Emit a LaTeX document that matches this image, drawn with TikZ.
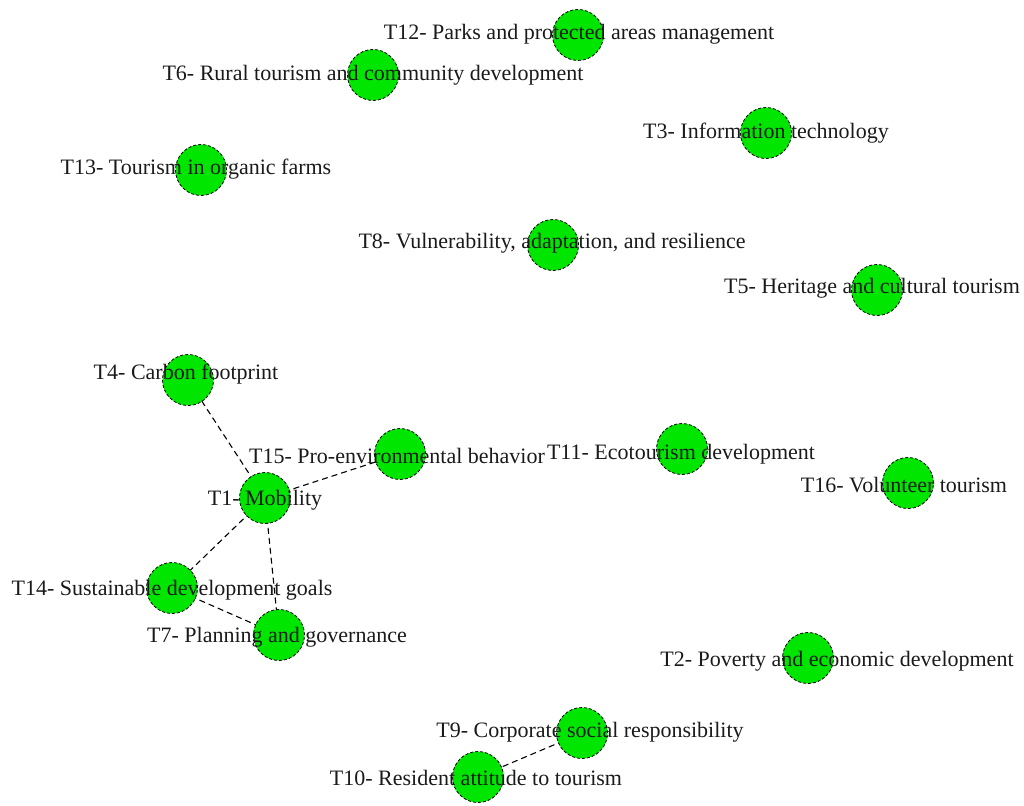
\documentclass[tikz,border=0pt]{standalone}
\usepackage{fontspec}
\setmainfont{Liberation Serif}
\usetikzlibrary{backgrounds}
\definecolor{topicgreen}{HTML}{00E600}
\definecolor{inkgray}{HTML}{1A1A1A}
\tikzset{
 topic/.style={circle,draw=black,densely dashed,line width=0.8pt,fill=topicgreen,minimum size=51pt,inner sep=0pt},
 toplabel/.style={text=inkgray,inner sep=0pt,anchor=base,font=\fontsize{22}{24}\selectfont},
 link/.style={draw=black,line width=1.1pt,dash pattern=on 6pt off 4pt}
}

\begin{document}
\begin{tikzpicture}[x=1pt,y=-1pt]
\useasboundingbox (0,0) rectangle (1024,805);
% topics
\node[topic] (t12) at (578,35) {};
\node[topic] (t6) at (373,75) {};
\node[topic] (t3) at (766,133) {};
\node[topic] (t13) at (201,170) {};
\node[topic] (t8) at (553,245) {};
\node[topic] (t5) at (877,290) {};
\node[topic] (t4) at (188,380) {};
\node[topic] (t15) at (400,454) {};
\node[topic] (t11) at (682,449) {};
\node[topic] (t16) at (908,483) {};
\node[topic] (t1) at (265,498) {};
\node[topic] (t14) at (172,588) {};
\node[topic] (t7) at (279,635) {};
\node[topic] (t2) at (808,658) {};
\node[topic] (t9) at (582,733) {};
\node[topic] (t10) at (478,777) {};
% links
\begin{scope}[on background layer]
\draw[link] (t1.center) -- (t4.center);
\draw[link] (t1.center) -- (t15.center);
\draw[link] (t1.center) -- (t14.center);
\draw[link] (t1.center) -- (t7.center);
\draw[link] (t14.center) -- (t7.center);
\draw[link] (t9.center) -- (t10.center);
\end{scope}
% labels (baselines)
\node[toplabel] (l12) at (579,40) {T12- Parks and protected areas management};
\node[toplabel] (l6) at (373,81) {T6- Rural tourism and community development};
\node[toplabel] (l3) at (766,139) {T3- Information technology};
\node[toplabel] (l13) at (196,175) {T13- Tourism in organic farms};
\node[toplabel] (l8) at (552,248) {T8- Vulnerability, adaptation, and resilience};
\node[toplabel] (l5) at (872,293) {T5- Heritage and cultural tourism};
\node[toplabel] (l4) at (186,379) {T4- Carbon footprint};
\node[toplabel] (l15) at (397,463) {T15- Pro-environmental behavior};
\node[toplabel] (l11) at (681,459) {T11- Ecotourism development};
\node[toplabel] (l16) at (904,492) {T16- Volunteer tourism};
\node[toplabel] (l1) at (265,505) {T1- Mobility};
\node[toplabel] (l14) at (172,595) {T14- Sustainable development goals};
\node[toplabel] (l7) at (277,642) {T7- Planning and governance};
\node[toplabel] (l2) at (837,666) {T2- Poverty and economic development};
\node[toplabel] (l9) at (590,737) {T9- Corporate social responsibility};
\node[toplabel] (l10) at (476,785) {T10- Resident attitude to tourism};
\end{tikzpicture}
\end{document}
